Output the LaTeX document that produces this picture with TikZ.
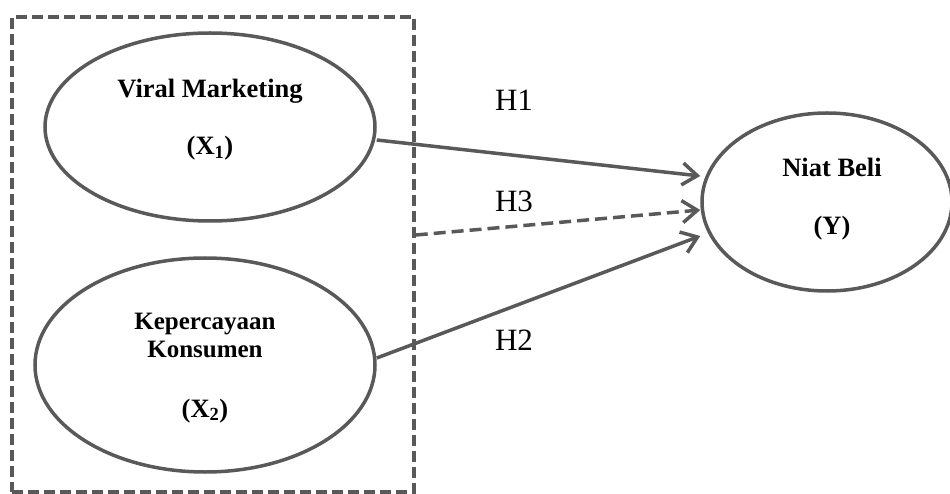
\documentclass[tikz,border=0pt]{standalone}
\usepackage{fontspec}
\setmainfont{Liberation Serif}
\usetikzlibrary{positioning,arrows.meta,shapes.geometric}
\definecolor{linegray}{RGB}{89,89,89}

\begin{document}
\begin{tikzpicture}[x=1pt, y=-1pt,
  var/.style={ellipse, draw=linegray, line width=3.5pt, inner sep=0pt},
  lbl/.style={anchor=base, inner sep=0pt, font=\fontsize{26.5}{30}\selectfont\bfseries},
  hyp/.style={anchor=base, inner sep=0pt, font=\fontsize{31}{36}\selectfont},
  path/.style={draw=linegray, line width=3.5pt, -{Straight Barb[length=15pt,width=22pt]}},
  group/.style={draw=linegray, line width=3.5pt, dash pattern=on 11pt off 5pt}]
\useasboundingbox (0,0) rectangle (950,494);

\node[group, minimum width=402pt, minimum height=475pt] (grp) at (213,254.5) {};

\node[var, minimum width=330pt, minimum height=188pt] (vm) at (210,127) {};
\node[var, minimum width=340pt, minimum height=214pt] (kk) at (205,365) {};
\node[var, minimum width=250pt, minimum height=178pt] (nb) at (827,202) {};

\node[lbl] (vmname) at ([yshift=29pt]vm.center) {Viral Marketing};
\node[lbl] (vmsym) at ([yshift=-28pt]vm.center) {(X\textsubscript{1})};
\node[lbl, font=\fontsize{25}{30}\selectfont\bfseries] (kkname1) at ([yshift=36pt]kk.center) {Kepercayaan};
\node[lbl, font=\fontsize{25}{30}\selectfont\bfseries] (kkname2) at ([yshift=8pt]kk.center) {Konsumen};
\node[lbl] (kksym) at ([yshift=-52pt]kk.center) {(X\textsubscript{2})};
\node[lbl] (nbname) at ([xshift=5pt,yshift=25pt]nb.center) {Niat Beli};
\node[lbl] (nbsym) at ([xshift=5pt,yshift=-33pt]nb.center) {(Y)};

\draw[path] ([yshift=-13pt]vm.east) -- ([yshift=26pt]nb.west);
\draw[path, dash pattern=on 12pt off 6pt] ([yshift=19.5pt]grp.east) -- ([yshift=-8pt]nb.west);
\draw[path] ([yshift=7pt]kk.east) -- ([yshift=-34pt]nb.west);

\node[hyp] (h1) at (514,111) {H1};
\node[hyp] (h3) at (514,212) {H3};
\node[hyp] (h2) at (514,350) {H2};
\end{tikzpicture}
\end{document}
